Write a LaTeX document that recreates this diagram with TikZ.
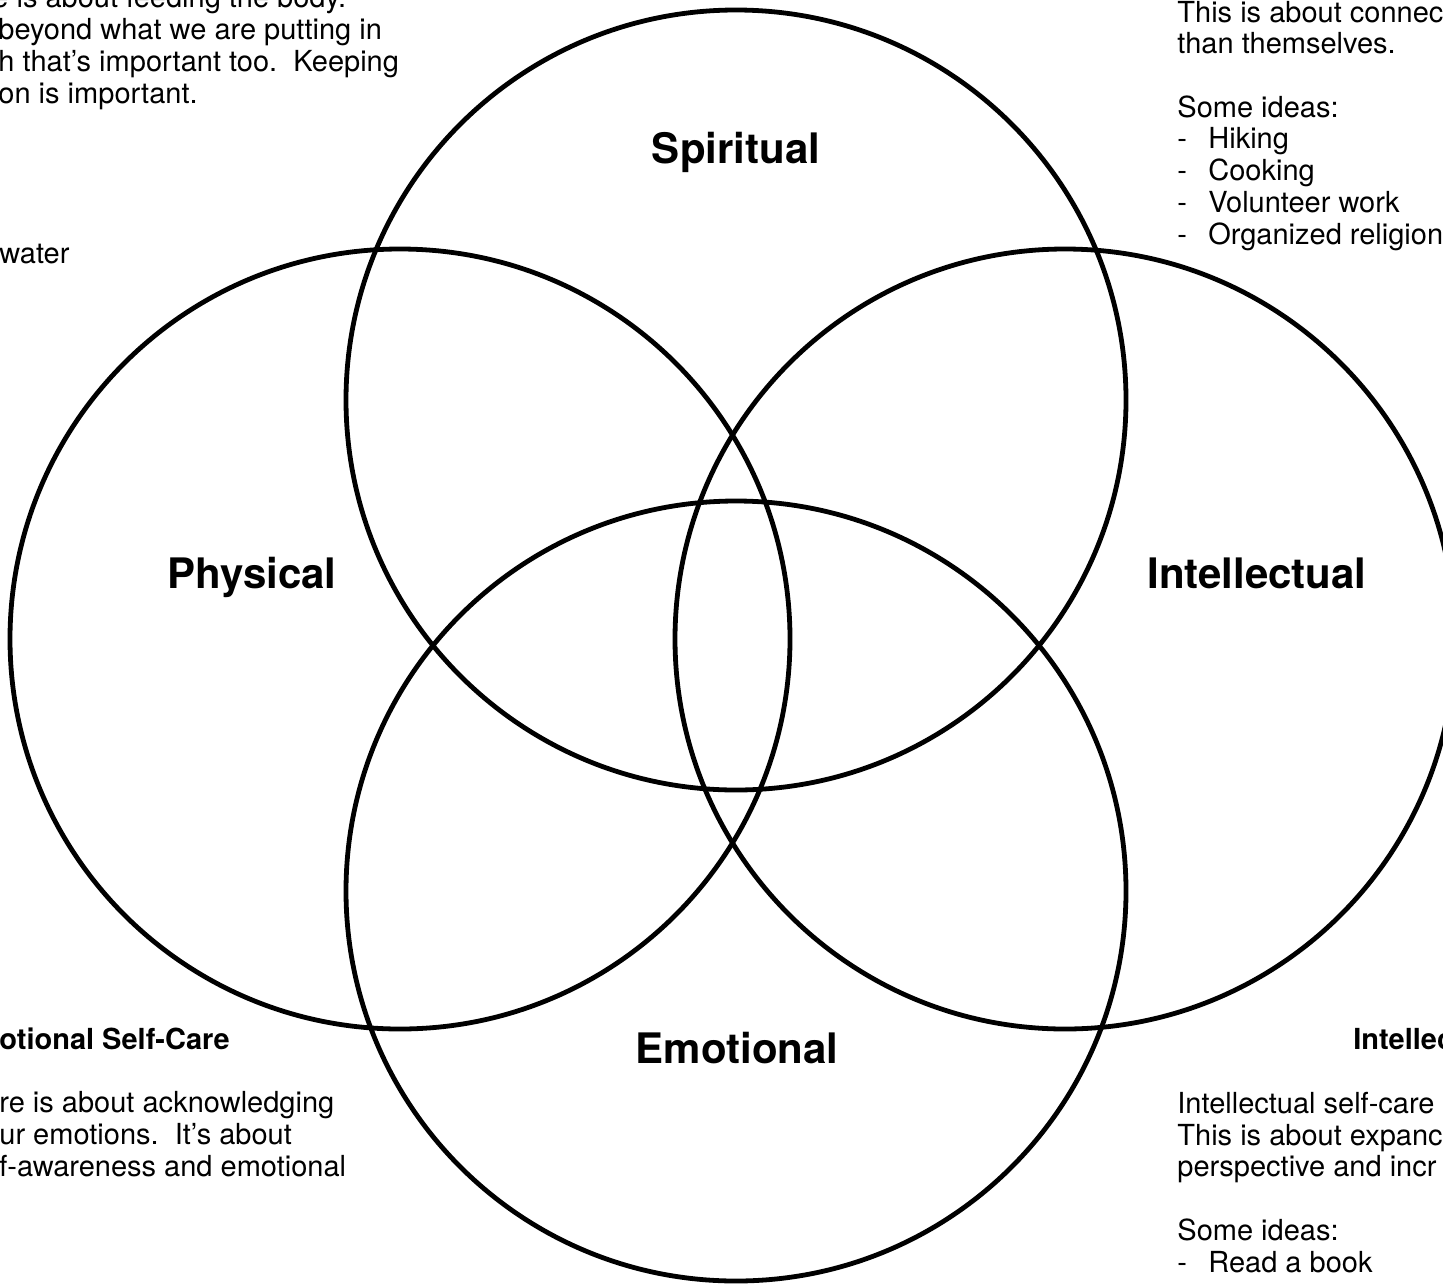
\documentclass[tikz,border=0pt]{standalone}
\usepackage{fontspec}
\setmainfont{TeX Gyre Heros}
\usetikzlibrary{positioning}
\newcommand{\gapline}{\\[15.85pt]}
\newcommand{\dashitem}[1]{\makebox[15.5pt][l]{-}#1}

\begin{document}
\begin{tikzpicture}[
  x=0.5pt,y=-0.5pt,
  every node/.style={inner sep=0pt},
  ring/.style={circle,draw,line width=2.4pt,minimum size=390pt,outer sep=0pt},
  area/.style={font=\fontsize{21}{25}\selectfont\bfseries,anchor=base},
  blurb/.style={font=\fontsize{14.5}{15.85}\selectfont,align=left,anchor=base west}
]
  \useasboundingbox (0,0) rectangle (1443,1285);
  \clip (0,0) rectangle (1443,1285);

  % the four rings
  \node[ring] (spiritual) at (736,400) {};
  \node[ring] (physical) at (400,639) {};
  \node[ring] (intellectual) at (1065,639) {};
  \node[ring] (emotional) at (736,891) {};

  % ring titles
  \node[area] (spiritualT) at (736,163) {Spiritual};
  \node[area] (physicalT) at (252,588) {Physical};
  \node[area] (intellectualT) at (1257,588) {Intellectual};
  \node[area] (emotionalT) at (737,1063) {Emotional};

  % side notes, cut by the page edge (base = last line)
  \node[blurb] (physNote) at (-2,103)
    {\hspace*{-3pt}e is about feeding the body.\\beyond what we are putting in\\h that’s important too.\ \ Keeping\\on is important.};
  \node[blurb] (physIdea) at (-1,263) {water};
  \node[blurb] (spirNote) at (1177,244)
    {This is about connec\\than themselves.\gapline Some ideas:\\\dashitem{Hiking}\\\dashitem{Cooking}\\\dashitem{Volunteer work}\\\dashitem{Organized religion}};
  \node[blurb] (emoNote) at (-1,1176)
    {\textbf{otional Self-Care}\gapline re is about acknowledging\\ur emotions.\ \ It’s about\\f-awareness and emotional};
  \node[blurb,font=\fontsize{14.5}{15.85}\selectfont\bfseries] (intHead) at (1353,1049) {Intellec};
  \node[blurb] (intNote) at (1177,1272)
    {Intellectual self-care\\This is about expanc\\perspective and incr\gapline Some ideas:\\\dashitem{Read a book}};
\end{tikzpicture}
\end{document}
